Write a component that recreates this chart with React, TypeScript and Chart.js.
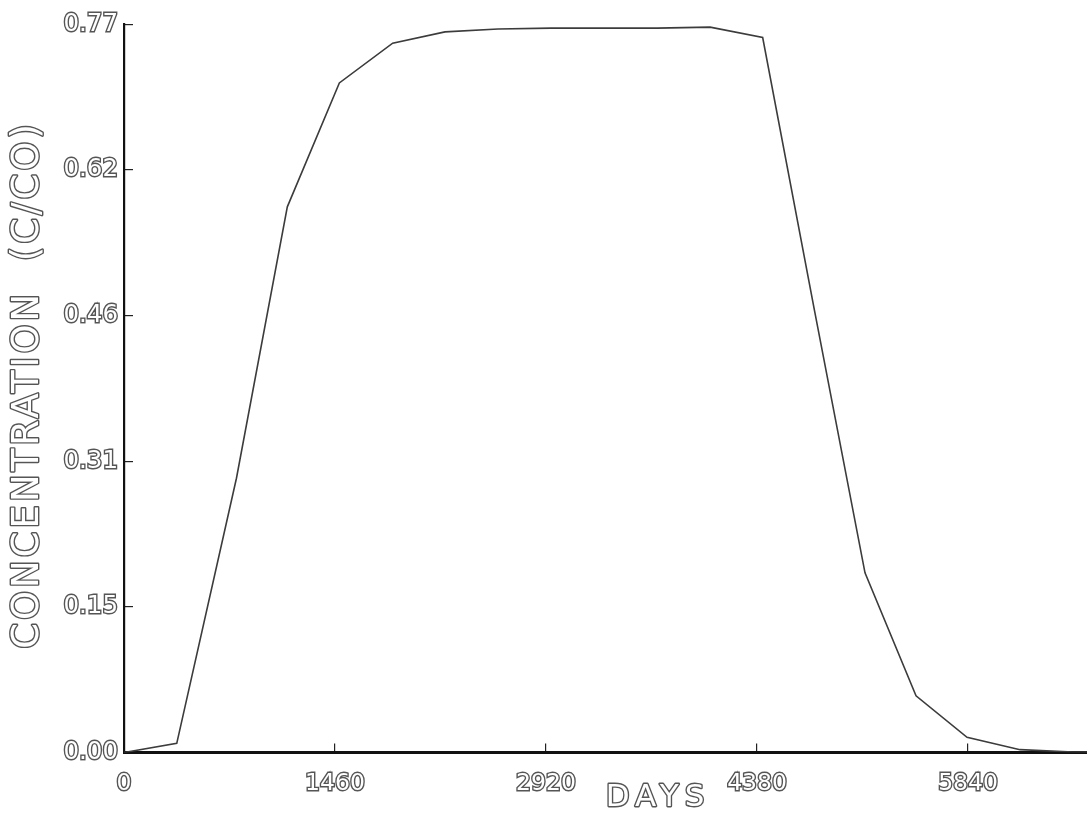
import React, { useEffect, useRef } from 'react';
import { Chart, registerables } from 'chart.js';

Chart.register(...registerables);

// Data
const DAYS = [0, 365, 778, 1130, 1490, 1859, 2221, 2588, 2955, 3321, 3688, 4055, 4419, 4778, 5127, 5480, 5833, 6200, 6567, 6935];
const CONC = [0, 0.0097, 0.290, 0.577, 0.708, 0.750, 0.762, 0.765, 0.766, 0.766, 0.766, 0.767, 0.756, 0.467, 0.190, 0.060, 0.016, 0.003, 0.0005, 0];

const X_TICKS = [0, 1460, 2920, 4380, 5840];
const X_TICK_LABELS = ['0', '1460', '2920', '4380', '5840'];
const Y_TICKS = [0, 0.154, 0.308, 0.462, 0.616, 0.77];
const Y_TICK_LABELS = ['0.00', '0.15', '0.31', '0.46', '0.62', '0.77'];
const X_MIN = 0;
const X_MAX = 6663;
const Y_MIN = 0;
const Y_MAX = 0.77;
const X_TITLE = 'DAYS';
const Y_TITLE = 'CONCENTRATION  (C/CO)';

const OUTLINE = '#555555';
const FONT = '"DejaVu Sans", "Liberation Sans", sans-serif';

const hollowTitles = {
  id: 'hollowTitles',
  afterDraw(chart: any) {
    const ctx = chart.ctx as CanvasRenderingContext2D;
    const area = chart.chartArea;
    ctx.save();
    ctx.textAlign = 'center';
    ctx.textBaseline = 'middle';
    ctx.lineJoin = 'round';
    ctx.lineWidth = 2.8;
    ctx.strokeStyle = OUTLINE;
    ctx.fillStyle = '#ffffff';

    // x title
    ctx.font = `31px ${FONT}`;
    (ctx as any).letterSpacing = '6px';
    const xx = 658;
    const xy = area.bottom + 45;
    ctx.strokeText(X_TITLE, xx, xy);
    ctx.fillText(X_TITLE, xx, xy);

    // y title
    ctx.font = `37px ${FONT}`;
    (ctx as any).letterSpacing = '3px';
    ctx.translate(28, 385);
    ctx.rotate(-Math.PI / 2);
    ctx.strokeText(Y_TITLE, 0, 0);
    ctx.fillText(Y_TITLE, 0, 0);
    ctx.restore();
  },
};

const whiteBg = {
  id: 'whiteBg',
  beforeDraw(chart: any) {
    const ctx = chart.ctx;
    ctx.save();
    ctx.fillStyle = '#ffffff';
    ctx.fillRect(0, 0, chart.width, chart.height);
    ctx.restore();
  },
};

export default function App() {
  const ref = useRef<HTMLCanvasElement | null>(null);

  useEffect(() => {
    if (!ref.current) return;
    const chart = new Chart(ref.current, {
      type: 'line',
      data: {
        datasets: [
          {
            label: 'C/CO',
            data: DAYS.map((d, i) => ({ x: d, y: CONC[i] })),
            borderColor: '#3c3c3c',
            borderWidth: 1.6,
            pointRadius: 0,
            tension: 0,
            fill: false,
          },
        ],
      },
      options: {
        animation: false,
        responsive: false,
        maintainAspectRatio: false,
        layout: { padding: { top: 24.3, right: 0, left: 0, bottom: 0 } },
        plugins: { legend: { display: false }, tooltip: { enabled: false } },
        scales: {
          x: {
            type: 'linear',
            min: X_MIN,
            max: X_MAX,
            afterBuildTicks: (s: any) => {
              s.ticks = X_TICKS.map((v) => ({ value: v }));
            },
            afterFit: (s: any) => {
              s.height = 80.5;
              s.paddingLeft = 0;
              s.paddingRight = 0;
            },
            grid: { drawOnChartArea: false, drawTicks: true, tickLength: -9, color: '#222', lineWidth: 1.2 },
            border: { display: true, color: '#111', width: 3 },
            ticks: {
              padding: 26,
              autoSkip: false,
              maxRotation: 0,
              color: '#ffffff',
              textStrokeColor: OUTLINE,
              textStrokeWidth: 2.8,
              font: { family: FONT, size: 23.5 },
              callback: (_v: any, i: number) => X_TICK_LABELS[i],
            },
          },
          y: {
            type: 'linear',
            min: Y_MIN,
            max: Y_MAX,
            afterBuildTicks: (s: any) => {
              s.ticks = Y_TICKS.map((v) => ({ value: v }));
            },
            afterFit: (s: any) => {
              s.width = 124;
              s.paddingTop = 0;
              s.paddingBottom = 0;
            },
            grid: { drawOnChartArea: false, drawTicks: true, tickLength: -9, color: '#222', lineWidth: 1.2 },
            border: { display: true, color: '#111', width: 2.2 },
            ticks: {
              padding: 15,
              autoSkip: false,
              color: '#ffffff',
              textStrokeColor: OUTLINE,
              textStrokeWidth: 2.8,
              font: { family: FONT, size: 24.5 },
              callback: (_v: any, i: number) => Y_TICK_LABELS[i],
            },
          },
        },
      },
      plugins: [whiteBg, hollowTitles],
    } as any);
    return () => chart.destroy();
  }, []);

  return (
    <div style={{ position: 'fixed', left: 0, top: 0, width: 1087, height: 833, background: '#fff' }}>
      <canvas ref={ref} width={1087} height={833} style={{ display: 'block', width: 1087, height: 833 }} />
    </div>
  );
}
